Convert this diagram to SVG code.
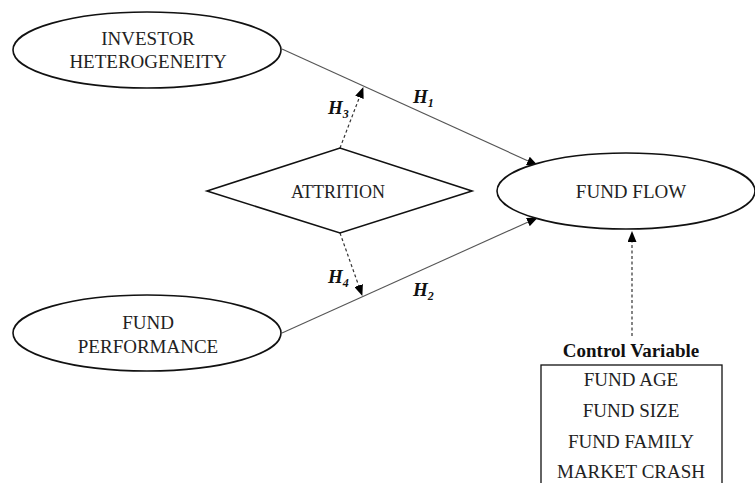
<svg xmlns="http://www.w3.org/2000/svg" width="755" height="483" viewBox="0 0 755 483">
<defs>
<marker id="arr" markerUnits="userSpaceOnUse" markerWidth="11" markerHeight="9" refX="10" refY="4.5" orient="auto">
<path d="M0,0 L11,4.5 L0,9 z" fill="#000"/>
</marker>
<style>
.shape{fill:#fff;stroke:#111;stroke-width:1.6}
.t{font-family:"Liberation Serif","Times New Roman",serif;font-size:19px;fill:#222;text-anchor:middle}
.h{font-family:"Liberation Serif","Times New Roman",serif;font-size:19px;font-weight:bold;font-style:italic;fill:#111}
.sub{font-size:12px}
.solid{stroke:#555;stroke-width:1.1;fill:none}
.dash{stroke:#333;stroke-width:1.2;stroke-dasharray:3,2.5;fill:none}
.bold{font-weight:bold;fill:#111}
</style>
</defs>
<rect width="755" height="483" fill="#fff"/>
<g id="connectors">
<line class="solid" x1="282" y1="49" x2="537" y2="165" marker-end="url(#arr)"/>
<line class="solid" x1="282" y1="333" x2="537" y2="218" marker-end="url(#arr)"/>
<line class="dash" x1="340" y1="148" x2="363" y2="88" marker-end="url(#arr)"/>
<line class="dash" x1="340" y1="233" x2="362" y2="295" marker-end="url(#arr)"/>
<line class="dash" x1="632" y1="336" x2="632" y2="232" marker-end="url(#arr)"/>
<text class="h" x="413" y="103">H<tspan class="sub" dy="4">1</tspan></text>
<text class="h" x="328" y="114">H<tspan class="sub" dy="4">3</tspan></text>
<text class="h" x="328" y="283">H<tspan class="sub" dy="4">4</tspan></text>
<text class="h" x="413" y="296">H<tspan class="sub" dy="4">2</tspan></text>
</g>
<g id="investor">
<ellipse class="shape" cx="147" cy="50" rx="134" ry="38"/>
<text class="t" x="148" y="45">INVESTOR</text>
<text class="t" x="148" y="68">HETEROGENEITY</text>
</g>
<g id="performance">
<ellipse class="shape" cx="147" cy="333" rx="134" ry="38"/>
<text class="t" x="148" y="329">FUND</text>
<text class="t" x="148" y="353">PERFORMANCE</text>
</g>
<g id="attrition">
<polygon class="shape" points="207,191 340,148 472,191 340,233"/>
<text class="t" x="338" y="198" style="font-size:18px">ATTRITION</text>
</g>
<g id="fundflow">
<ellipse class="shape" cx="626" cy="191" rx="129" ry="38"/>
<text class="t" x="631" y="198">FUND FLOW</text>
</g>
<g id="control">
<text class="t bold" x="631" y="357">Control Variable</text>
<rect x="541" y="365" width="181" height="130" fill="#fff" stroke="#111" stroke-width="1.3"/>
<text class="t" x="631" y="386">FUND AGE</text>
<text class="t" x="631" y="417">FUND SIZE</text>
<text class="t" x="631" y="448">FUND FAMILY</text>
<text class="t" x="631" y="478">MARKET CRASH</text>
</g>
</svg>
